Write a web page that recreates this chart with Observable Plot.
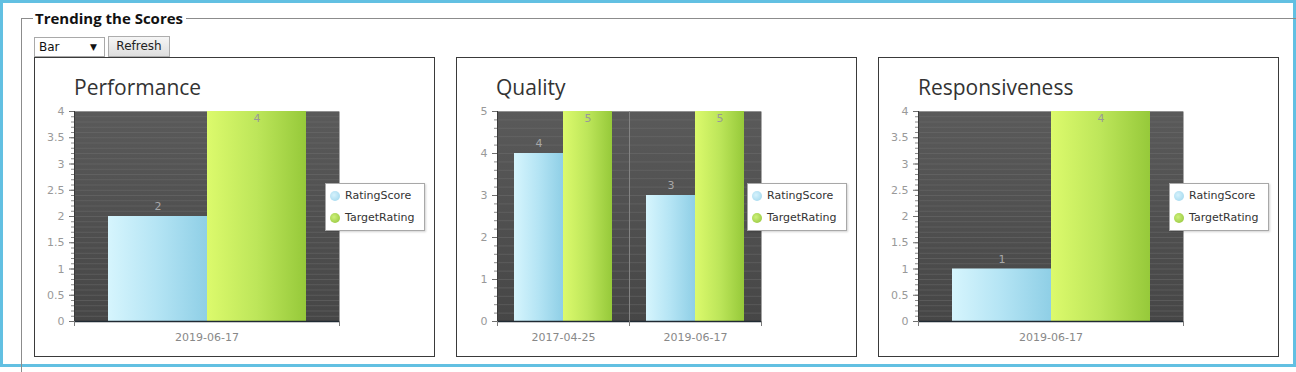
<!DOCTYPE html>
<html>
<head>
<meta charset="utf-8">
<script src="https://cdn.jsdelivr.net/npm/d3@7"></script>
<script src="https://cdn.jsdelivr.net/npm/@observablehq/plot@0.6"></script>
<style>
  html, body { margin: 0; padding: 0; background: #fff; }
  body { width: 1296px; height: 372px; overflow: hidden; position: relative; font-family: "DejaVu Sans", Verdana, sans-serif; }
  #frame { position: absolute; left: 0; top: 0; width: 1290px; height: 361px; border: 3px solid #62c0e2; }
  #fieldset { position: absolute; left: 21px; top: 18px; width: 1400px; height: 400px; border-left: 1px solid #8c8c8c; border-top: 1px solid #8c8c8c; }
  #legendTitle { position: absolute; left: 33px; top: 8px; padding: 0 3px 0 2px; background: #fff; font: bold 15px "Open Sans", sans-serif; line-height: 20px; color: #111; }
  #chartType { position: absolute; left: 34px; top: 37px; width: 69px; height: 18px; border: 1px solid #a9a9a9; background: #fff; font-size: 12px; line-height: 18px; color: #111; }
  #chartType .val { position: absolute; left: 4px; top: 0; }
  #chartType .arrow { position: absolute; left: 55px; top: 0; font-size: 9px; }
  #refresh { position: absolute; left: 108px; top: 36px; width: 60px; height: 19px; border: 1px solid #adadad; background: linear-gradient(#f5f5f5, #dedede); font-size: 12px; line-height: 19px; text-align: center; color: #222; }
  .panel { position: absolute; top: 57px; width: 399px; height: 298px; border: 1px solid #3a3a3a; background: #fff; }
  .panel svg.chart { position: absolute; left: 0; top: 0; }
  .panel .title { position: absolute; left: 39px; top: 19px; font: 21px "Open Sans", sans-serif; line-height: 21px; color: #333; white-space: nowrap; }
  .panel .key { position: absolute; left: 290px; top: 125px; width: 98px; height: 46px; border: 1px solid #a8a8a8; background: #fff; box-shadow: 1px 1px 2px rgba(0,0,0,0.18); font-family: "DejaVu Sans", Verdana, sans-serif; font-size: 11px; color: #333; }
  .panel .key .item { position: absolute; left: 0; height: 14px; line-height: 14px; white-space: nowrap; }
  .panel .key .sw { position: absolute; left: 4px; top: 2px; width: 10px; height: 10px; border-radius: 50%; }
  .panel .key .lbl { position: absolute; left: 19px; top: 0; }
</style>
</head>
<body>
<svg width="0" height="0" style="position:absolute">
  <defs>
    <linearGradient id="ratingFill" x1="0" y1="0" x2="1" y2="0">
      <stop offset="0" stop-color="#d6f5fd"/>
      <stop offset="0.5" stop-color="#b4e4f4"/>
      <stop offset="1" stop-color="#8fcfe6"/>
    </linearGradient>
    <linearGradient id="targetFill" x1="0" y1="0" x2="1" y2="0">
      <stop offset="0" stop-color="#dcfa6c"/>
      <stop offset="0.5" stop-color="#bde65a"/>
      <stop offset="1" stop-color="#96c93a"/>
    </linearGradient>
    <linearGradient id="plotFill" x1="0" y1="0" x2="0" y2="1">
      <stop offset="0" stop-color="#5a5a5a"/>
      <stop offset="1" stop-color="#464646"/>
    </linearGradient>
  </defs>
</svg>
<div id="frame"></div>
<div id="fieldset"></div>
<div id="legendTitle">Trending the Scores</div>
<div id="chartType"><span class="val">Bar</span><span class="arrow">▼</span></div>
<div id="refresh">Refresh</div>
<div id="panels"></div>
<script>
// Series shown in every chart
const seriesNames = ["RatingScore", "TargetRating"];
const seriesSwatches = ["radial-gradient(circle at 40% 40%, #d6f2fc, #9ad4ec)", "radial-gradient(circle at 40% 40%, #cdf07a, #8fc236)"];

// Chart titles
const chartTitles = ["Performance", "Quality", "Responsiveness"];

// Performance scores
const performanceDates = ["2019-06-17"];
const performanceRating = [2];
const performanceTarget = [4];
const performanceTicks = [0, 0.5, 1, 1.5, 2, 2.5, 3, 3.5, 4];

// Quality scores
const qualityDates = ["2017-04-25", "2019-06-17"];
const qualityRating = [4, 3];
const qualityTarget = [5, 5];
const qualityTicks = [0, 1, 2, 3, 4, 5];

// Responsiveness scores
const responsivenessDates = ["2019-06-17"];
const responsivenessRating = [1];
const responsivenessTarget = [4];
const responsivenessTicks = [0, 0.5, 1, 1.5, 2, 2.5, 3, 3.5, 4];

// Minor tick step of each value axis
const minorSteps = [0.1, 0.2, 0.1];

const charts = [
  {title: chartTitles[0], dates: performanceDates, rating: performanceRating, target: performanceTarget, ticks: performanceTicks, minor: minorSteps[0]},
  {title: chartTitles[1], dates: qualityDates, rating: qualityRating, target: qualityTarget, ticks: qualityTicks, minor: minorSteps[1]},
  {title: chartTitles[2], dates: responsivenessDates, rating: responsivenessRating, target: responsivenessTarget, ticks: responsivenessTicks, minor: minorSteps[2]}
];
const panelLefts = [34, 456, 878];
const tickLabel = d3.format("~g");

// Short ticks below the baseline at the edges of each date band
function edgeTicks(index, scales, values, dims) {
  const ns = "http://www.w3.org/2000/svg";
  const g = document.createElementNS(ns, "g");
  const y0 = dims.height - dims.marginBottom;
  for (const x of [dims.marginLeft, dims.width - dims.marginRight]) {
    const l = document.createElementNS(ns, "line");
    l.setAttribute("x1", x + 0.5);
    l.setAttribute("x2", x + 0.5);
    l.setAttribute("y1", y0);
    l.setAttribute("y2", y0 + 5);
    l.setAttribute("stroke", "#7a7a7a");
    g.appendChild(l);
  }
  return g;
}

function drawChart(spec, left) {
  const rows = spec.dates.flatMap((date, i) => [
    {date, series: seriesNames[0], value: spec.rating[i]},
    {date, series: seriesNames[1], value: spec.target[i]}
  ]);
  const ymax = spec.ticks[spec.ticks.length - 1];
  const minorTicks = d3.ticks(0, ymax, Math.round(ymax / spec.minor));

  const svg = Plot.plot({
    width: 399,
    height: 298,
    marginLeft: 39,
    marginRight: 95,
    marginTop: 53,
    marginBottom: 35,
    style: {background: "transparent", fontFamily: "'DejaVu Sans', Verdana, sans-serif", fontSize: "11px", overflow: "visible"},
    facet: {data: rows, x: "date"},
    fx: {domain: spec.dates, padding: 0, label: null},
    x: {domain: seriesNames, paddingInner: 0, paddingOuter: 1 / 3, axis: null, label: null},
    y: {domain: [0, ymax], label: null},
    color: {domain: seriesNames, range: ["url(#ratingFill)", "url(#targetFill)"]},
    marks: [
      Plot.frame({fill: "url(#plotFill)", stroke: null}),
      Plot.gridY(minorTicks, {stroke: "#727272", strokeOpacity: 0.45}),
      Plot.frame({anchor: "left", stroke: "#848484"}),
      Plot.barY(rows, {x: "series", y: "value", fill: "series"}),
      Plot.text(rows, {x: "series", y: "value", text: "value", dy: -10, fill: "#a8a8a8", filter: d => d.value < ymax}),
      Plot.text(rows, {x: "series", y: "value", text: "value", dy: 7, fill: "#999", filter: d => d.value >= ymax}),
      Plot.ruleY([0], {stroke: "#202a33", strokeWidth: 1.5}),
      Plot.frame({anchor: "left", stroke: "#3a3a3a", facetAnchor: "left"}),
      Plot.axisY(minorTicks, {tickSize: 3, tickFormat: () => "", stroke: "#8a8a8a", label: null}),
      Plot.axisY(spec.ticks, {tickSize: 5, tickPadding: 5, tickFormat: tickLabel, stroke: "#6f6f6f", fill: "#999", label: null}),
      Plot.axisFx({anchor: "bottom", tickSize: 0, tickPadding: 12, fill: "#888", label: null}),
      edgeTicks
    ]
  });
  svg.classList.add("chart");

  const panel = document.createElement("div");
  panel.className = "panel";
  panel.style.left = left + "px";
  panel.appendChild(svg);

  const title = document.createElement("div");
  title.className = "title";
  title.textContent = spec.title;
  panel.appendChild(title);

  const key = document.createElement("div");
  key.className = "key";
  seriesNames.forEach((name, i) => {
    const item = document.createElement("div");
    item.className = "item";
    item.style.top = (5 + i * 22) + "px";
    const sw = document.createElement("span");
    sw.className = "sw";
    sw.style.background = seriesSwatches[i];
    const lbl = document.createElement("span");
    lbl.className = "lbl";
    lbl.textContent = name;
    item.appendChild(sw);
    item.appendChild(lbl);
    key.appendChild(item);
  });
  panel.appendChild(key);

  document.getElementById("panels").appendChild(panel);
}

charts.forEach((spec, i) => drawChart(spec, panelLefts[i]));
</script>
</body>
</html>
